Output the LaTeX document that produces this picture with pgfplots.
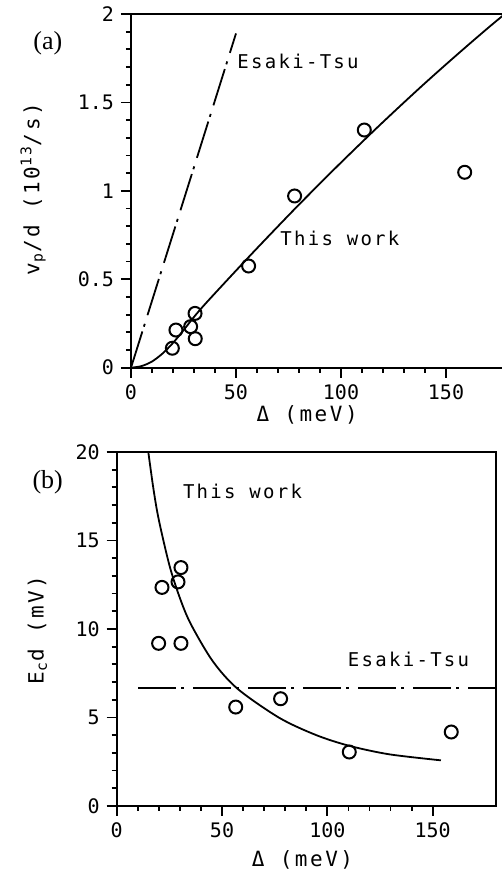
\documentclass[border=0pt]{standalone}
\usepackage{fontspec}
\usepackage{pgfplots}
\pgfplotsset{compat=1.18}
\setmainfont{Liberation Serif}
\newfontfamily\plotfont{DejaVu Sans Mono}[LetterSpace=12]
\newfontfamily\tickfont{DejaVu Sans Mono}
\newcommand\pf{\plotfont\fontsize{9.5}{11}\selectfont}
\newcommand\lf{\plotfont\fontsize{10.5}{12}\selectfont}

\pgfplotsset{
  panel/.style={
    scale only axis,
    xmin=0, xmax=180,
    axis line style={line width=1pt},
    tick align=outside,
    xtick pos=left, ytick pos=left,
    major tick length=5pt, minor tick length=2.5pt,
    every tick/.append style={black, line width=0.9pt},
    minor x tick num=4, minor y tick num=4,
    xtick={0,50,100,150},
    tick label style={font=\tickfont\fontsize{10}{12}\selectfont},
    /pgf/number format/assume math mode=true,
    label style={font=\lf},
    clip=false,
  },
  pts/.style={only marks, mark=o, mark size=3.25pt, mark options={line width=1pt}},
  fit/.style={line width=0.9pt, smooth},
  et/.style={line width=0.9pt, dash pattern=on 19pt off 2.5pt on 1.5pt off 4.5pt},
}

\begin{document}
\begin{tikzpicture}
% (a)
\begin{axis}[panel,
  at={(65.5pt,250.65pt)}, anchor=south west,
  width=189pt, height=176.85pt,
  ymin=0, ymax=2,
  ytick={0,0.5,1,1.5,2}, yticklabels={0,0.5,1,1.5,2},
  xlabel={\lf Δ (meV)},
  ylabel={\lf v\textsubscript{p}/d (10\textsuperscript{13}/s)},
  xlabel style={at={(axis description cs:0.466,-0.133)}, anchor=center},
  ylabel style={at={(axis description cs:-0.259,0.505)}, anchor=center},
]
\addplot[et] coordinates {(0,0) (50,1.89)};
\addplot[fit] coordinates {
  (0,0) (5,0.009) (10,0.035) (15,0.08) (20,0.14) (25,0.212) (30,0.287)
  (35,0.356) (45,0.485) (56,0.625) (66,0.750) (78,0.898) (90,1.042)
  (100,1.160) (111,1.287) (120,1.389) (130,1.500) (140,1.609)
  (150,1.715) (160,1.819) (170,1.921) (178,2.0)
};
\addplot[pts] coordinates {
  (19.7,0.11) (21.4,0.213) (28.4,0.232) (30.5,0.307) (30.6,0.164)
  (56.0,0.575) (77.9,0.971) (111.1,1.344) (158.9,1.105)
};
\node[anchor=west, font=\pf, inner sep=0] at (axis cs:50.5,1.73) {Esaki-Tsu};
\node[anchor=west, font=\pf, inner sep=0] at (axis cs:71,0.73) {This work};
\node[font=\fontsize{13}{15}\selectfont] at (axis description cs:-0.22,0.918) {(a)};
\end{axis}
% (b)
\begin{axis}[panel,
  at={(58.35pt,31.5pt)}, anchor=south west,
  width=189.6pt, height=177pt,
  ymin=0, ymax=20,
  ytick={0,5,10,15,20},
  xlabel={\lf Δ (meV)},
  ylabel={\lf E\textsubscript{c}d (mV)},
  xlabel style={at={(axis description cs:0.49,-0.1525)}, anchor=center},
  ylabel style={at={(axis description cs:-0.209,0.497)}, anchor=center},
]
\addplot[et] coordinates {(10.3,6.65) (180,6.65)};
\addplot[fit] coordinates {
  (15,20) (17.5,17.87) (20,16.16) (25,13.61) (29.7,11.85) (35,10.32)
  (45.6,8.18) (57.4,6.62) (77.2,4.98) (94.6,4.01) (110.4,3.40)
  (129.4,2.92) (153.9,2.58)
};
\addplot[pts] coordinates {
  (19.9,9.19) (21.5,12.35) (29.1,12.66) (30.5,13.47) (30.5,9.19)
  (56.5,5.59) (77.8,6.06) (110.4,3.05) (158.8,4.18)
};
\node[anchor=west, font=\pf, inner sep=0] at (axis cs:31.3,17.8) {This work};
\node[anchor=west, font=\pf, inner sep=0] at (axis cs:109.6,8.29) {Esaki-Tsu};
\node[font=\fontsize{13}{15}\selectfont] at (axis description cs:-0.182,0.915) {(b)};
\end{axis}
\pgfresetboundingbox
\useasboundingbox (0,0) rectangle (251pt,434.5pt);
\end{tikzpicture}
\end{document}
